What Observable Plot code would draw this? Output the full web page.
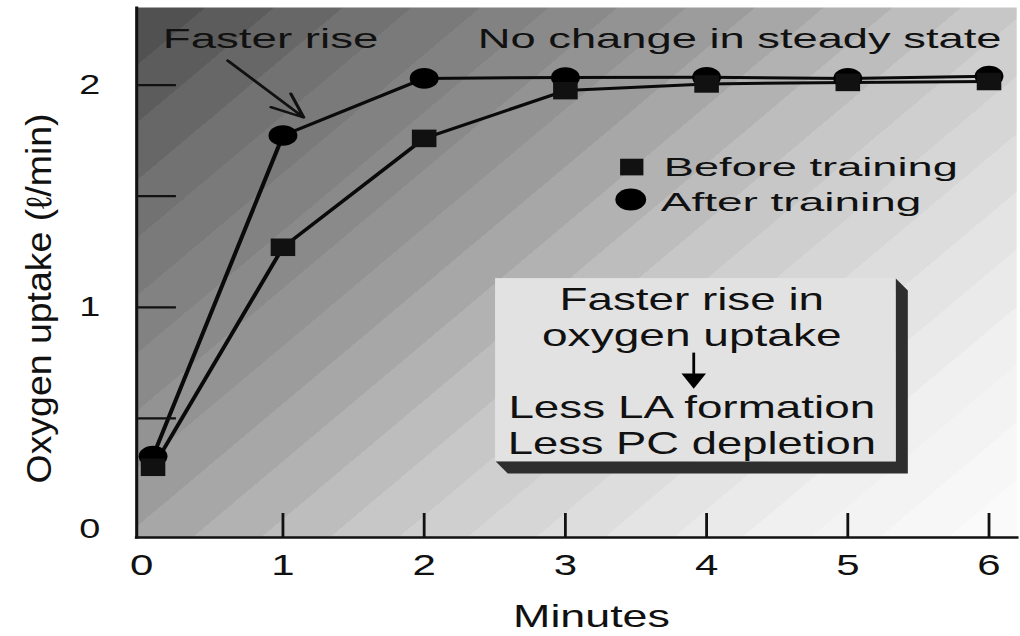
<!DOCTYPE html>
<html><head><meta charset="utf-8">
<script src="https://cdn.jsdelivr.net/npm/d3@7"></script>
<script src="https://cdn.jsdelivr.net/npm/@observablehq/plot@0.6"></script>
<style>html,body{margin:0;padding:0;background:#fff;} #chart svg{display:block}</style>
</head><body><div id="chart"></div>
<script>
// ---- data (minutes, oxygen uptake l/min) ----
const minutes = [0.08, 1, 2, 3, 4, 5, 6];
const beforeTraining = [0.28, 1.27, 1.76, 1.975, 2.005, 2.012, 2.016];
const afterTraining  = [0.33, 1.773, 2.03, 2.034, 2.035, 2.03, 2.04];
const xTickValues = [0, 1, 2, 3, 4, 5, 6];
const xTickMarks = [1, 2, 3, 4, 5, 6];
const yTickValues = [0, 1, 2];
const yTickMarks = [0.5, 1, 1.5, 2];
const seriesNames = ["Before training", "After training"];
const topNotes = ["Faster rise", "No change in steady state"];
const boxLines = ["Faster rise in", "oxygen uptake", "Less LA formation", "Less PC depletion"];
const xLabel = "Minutes";
const yLabel = "Oxygen uptake (\u2113/min)";

const before = minutes.map((t, i) => ({t, v: beforeTraining[i]}));
const after = minutes.map((t, i) => ({t, v: afterTraining[i]}));

// ---- layout (logical units; the whole picture is stretched horizontally) ----
const S = 1.4;
const W = 1020 / S, H = 636;
const mL = 136 / S, mR = 4 / S, mT = 7, mB = 99;
const frameW = W - mL - mR, frameH = H - mT - mB;

// annotation anchors in data units
const noteAnchors = [{t: 0.149, v: 2.169}, {t: 2.38, v: 2.169}];
const legendSquare = {t: 3.47, v: 1.631};
const legendCircle = {t: 3.463, v: 1.485};
const legendText = [{t: 3.697, v: 1.593}, {t: 3.676, v: 1.435}];
const box = {t1: 2.507, t2: 5.34, v1: 0.306, v2: 1.129};
const boxShadow = [
  {t: 5.34, v: 1.129}, {t: 5.425, v: 1.075}, {t: 5.425, v: 0.252},
  {t: 2.592, v: 0.252}, {t: 2.507, v: 0.306}, {t: 5.34, v: 0.306}
];
const boxTextT = 3.895;
const boxTextV = [0.99, 0.828, 0.504, 0.342];
const boxArrow = {t: 3.909, v1: 0.796, v2: 0.70, tipV: 0.679};
const riseArrow = {x1: 0.609, y1: 2.110, x2: 1.147, y2: 1.854};

const textLengths = {
  "Faster rise": 154, "No change in steady state": 374,
  "Before training": 210, "After training": 186,
  "Faster rise in": 189, "oxygen uptake": 214,
  "Less LA formation": 262, "Less PC depletion": 263,
  "Minutes": 112, [yLabel]: 370
};

const chart = Plot.plot({
  width: W, height: H,
  marginLeft: mL, marginRight: mR, marginTop: mT, marginBottom: mB,
  style: {fontFamily: "'Liberation Sans', Arial, sans-serif", background: "#fff", color: "#111"},
  x: {domain: [-0.0357, 6.196], axis: null},
  y: {domain: [-0.036, 2.349], axis: null},
  marks: [
    Plot.frame({fill: "url(#bgGrad)", stroke: "none"}),
    // annotation box
    Plot.line(boxShadow, {x: "t", y: "v", fill: "#2e2e2e", stroke: "none"}),
    Plot.rect([box], {x1: "t1", x2: "t2", y1: "v1", y2: "v2", fill: "#e2e2e2"}),
    Plot.text(boxLines, {x: () => boxTextT, y: (d, i) => boxTextV[i], text: d => d,
      lineAnchor: "bottom", textAnchor: "middle", fontSize: 30.5, fill: "#111"}),
    Plot.link([boxArrow], {x1: "t", x2: "t", y1: "v1", y2: "v2", stroke: "#000", strokeWidth: 2}),
    Plot.dot([boxArrow], {x: "t", y: "tipV", symbol: "triangle", rotate: 180, r: 6.5, fill: "#000"}),
    // top notes
    Plot.text(topNotes, {x: (d, i) => noteAnchors[i].t, y: (d, i) => noteAnchors[i].v, text: d => d,
      lineAnchor: "bottom", textAnchor: "start", fontSize: 28, fill: "#111"}),
    Plot.arrow([riseArrow], {x1: "x1", y1: "y1", x2: "x2", y2: "y2", stroke: "#111",
      strokeWidth: 2.4, headLength: 16, headAngle: 45}),
    // legend
    Plot.dot([legendSquare], {x: "t", y: "v", symbol: "square", r: 9.4, fill: "#111"}),
    Plot.dot([legendCircle], {x: "t", y: "v", symbol: "circle", r: 11, fill: "#000"}),
    Plot.text(seriesNames, {x: (d, i) => legendText[i].t, y: (d, i) => legendText[i].v, text: d => d,
      lineAnchor: "bottom", textAnchor: "start", fontSize: 25, fill: "#111"}),
    // series
    Plot.line(after, {x: "t", y: "v", stroke: "#0a0a0a", strokeWidth: 3}),
    Plot.line(before, {x: "t", y: "v", stroke: "#0a0a0a", strokeWidth: 3}),
    Plot.dot(after, {x: "t", y: "v", r: 10.3, fill: "#000"}),
    Plot.dot(before, {x: "t", y: "v", symbol: "square", r: 9.9, fill: "#111"}),
    // ticks and axes
    Plot.tickY(yTickMarks, {y: d => d, stroke: "#111", strokeWidth: 2.2, insetLeft: 1.5, insetRight: frameW - 28.5}),
    Plot.tickX(xTickMarks, {x: d => d, stroke: "#111", strokeWidth: 2, insetTop: frameH - 24}),
    Plot.frame({anchor: "left", stroke: "#111", strokeWidth: 2.2}),
    Plot.frame({anchor: "bottom", stroke: "#111", strokeWidth: 2.6}),
    Plot.axisX(xTickValues, {tickSize: 0, tickPadding: 16, fontSize: 30, label: null, tickFormat: d => String(d), fill: "#111"}),
    Plot.axisY(yTickValues, {tickSize: 0, tickPadding: 26, fontSize: 27, label: null, tickFormat: d => String(d), fill: "#111"}),
    Plot.text([xLabel], {frameAnchor: "bottom", dx: 422 - (mL + frameW / 2), dy: 89, lineAnchor: "bottom",
      textAnchor: "middle", fontSize: 32, fill: "#111"}),
    Plot.text([yLabel], {frameAnchor: "left", rotate: -90, dx: 35.7 - mL, dy: 26, lineAnchor: "bottom",
      textAnchor: "middle", fontSize: 25, fill: "#111"})
  ]
});

// background: posterised diagonal gradient (dark top-left -> white bottom-right)
const ns = "http://www.w3.org/2000/svg";
const defs = document.createElementNS(ns, "defs");
const grad = document.createElementNS(ns, "linearGradient");
grad.setAttribute("id", "bgGrad");
grad.setAttribute("gradientUnits", "userSpaceOnUse");
const th = 40 * Math.PI / 180;
const a = Math.sin(th) * S, b = Math.cos(th);
const pMax = a * frameW + b * frameH;
const k = pMax / (a * a + b * b);
grad.setAttribute("x1", mL); grad.setAttribute("y1", mT);
grad.setAttribute("x2", mL + a * k); grad.setAttribute("y2", mT + b * k);
const grayStops = [[0, 76], [0.15, 112], [0.37, 152], [0.45, 172], [0.59, 204], [0.82, 238], [1, 252]];
const grayAt = f => {
  for (let i = 1; i < grayStops.length; i++) {
    if (f <= grayStops[i][0]) {
      const [f0, g0] = grayStops[i - 1], [f1, g1] = grayStops[i];
      return g0 + (g1 - g0) * (f - f0) / (f1 - f0);
    }
  }
  return grayStops[grayStops.length - 1][1];
};
const N = 22;
for (let i = 0; i < N; i++) {
  const g = Math.round(grayAt((i + 0.5) / N));
  const c = `rgb(${g},${g},${g})`;
  for (const off of [i / N, (i + 1) / N]) {
    const st = document.createElementNS(ns, "stop");
    st.setAttribute("offset", off);
    st.setAttribute("stop-color", c);
    grad.appendChild(st);
  }
}
defs.appendChild(grad);
chart.insertBefore(defs, chart.firstChild);

// fit text widths of the stretched original
chart.querySelectorAll("text").forEach(t => {
  const L = textLengths[t.textContent];
  if (L) { t.setAttribute("textLength", L); t.setAttribute("lengthAdjust", "spacingAndGlyphs"); }
});

chart.setAttribute("width", 1020);
chart.setAttribute("height", 636);
chart.setAttribute("preserveAspectRatio", "none");
chart.style.width = "1020px";
chart.style.height = "636px";
chart.style.maxWidth = "none";
document.getElementById("chart").appendChild(chart);
</script>
</body></html>
